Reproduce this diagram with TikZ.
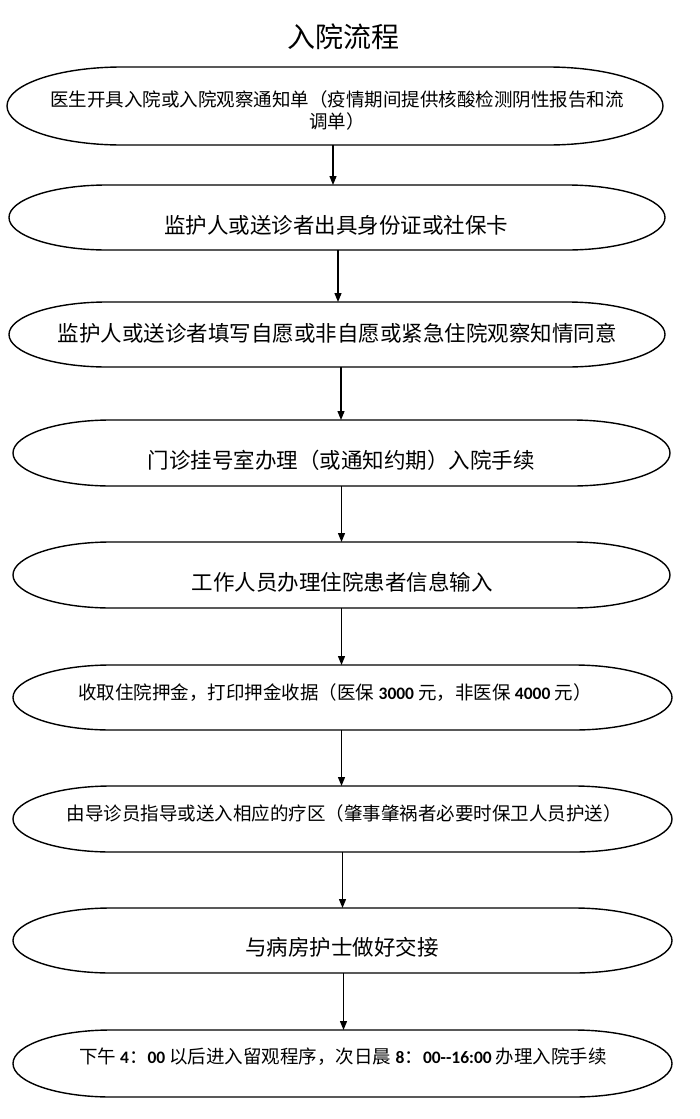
\documentclass[tikz,border=0pt]{standalone}
\usepackage{fontspec}
\setmainfont{Noto Sans CJK SC}
\newfontfamily\dgfont{Carlito}
\usetikzlibrary{arrows.meta}
\newcommand\dg[1]{{\dgfont\bfseries\fontsize{17.5}{20}\selectfont #1}}
\newcommand\mycapsule[3]{%
  \draw[outl] ([xshift=#2pt]#1.north west) -- ([xshift=-#2pt]#1.north east)
    arc[start angle=90,end angle=-90,x radius=#2pt,y radius=#3pt]
    -- ([xshift=#2pt]#1.south west)
    arc[start angle=270,end angle=90,x radius=#2pt,y radius=#3pt] -- cycle;}
\begin{document}
\begin{tikzpicture}[x=1pt,y=-1pt,
  box/.style={draw=none,inner sep=0pt,outer sep=0pt,minimum width=#1},
  box/.default=657pt,
  outl/.style={line width=1.4pt,black},
  big/.style={font=\fontsize{21.5}{25}\selectfont,inner sep=0pt},
  small/.style={font=\fontsize{18.5}{22}\selectfont,inner sep=0pt},
  arr/.style={line width=1.2pt,-{Triangle[length=9pt,width=7pt]}}]
\useasboundingbox[fill=white] (0,0) rectangle (700,1119);

\node[font=\fontsize{28}{32}\selectfont,inner sep=0pt] (title) at (343,37) {入院流程};

\node[box=656pt,minimum height=78pt] (e1) at (335,106) {};
\node[box=656pt,minimum height=65pt] (e2) at (337,217.5) {};
\node[box=656pt,minimum height=65pt] (e3) at (337,334.5) {};
\node[box=657pt,minimum height=66pt] (e4) at (341.5,453) {};
\node[box=657pt,minimum height=66pt] (e5) at (341.5,575) {};
\node[box=659pt,minimum height=65pt] (e6) at (342.5,697.5) {};
\node[box=659pt,minimum height=66pt] (e7) at (342.5,819) {};
\node[box=659pt,minimum height=65pt] (e8) at (342.5,940.5) {};
\node[box=659pt,minimum height=67pt] (e9) at (342.5,1063.5) {};

\mycapsule{e1}{115}{39}
\mycapsule{e2}{98}{32.5}
\mycapsule{e3}{98}{32.5}
\mycapsule{e4}{98}{33}
\mycapsule{e5}{98}{33}
\mycapsule{e6}{98}{32.5}
\mycapsule{e7}{98}{33}
\mycapsule{e8}{98}{32.5}
\mycapsule{e9}{98}{33.5}

\node[small,align=center] (t1) at (337,110) {医生开具入院或入院观察通知单（疫情期间提供核酸检测阴性报告和流\\调单）};
\node[big] (t2) at (336,225) {监护人或送诊者出具身份证或社保卡};
\node[big] (t3) at (337,333) {监护人或送诊者填写自愿或非自愿或紧急住院观察知情同意};
\node[big] (t4) at (341,460) {门诊挂号室办理（或通知约期）入院手续};
\node[big] (t5) at (342,582) {工作人员办理住院患者信息输入};
\node[small] (t6) at (335,693) {收取住院押金，打印押金收据（医保 \dg{3000} 元，非医保 \dg{4000} 元）};
\node[small] (t7) at (344,813) {由导诊员指导或送入相应的疗区（肇事肇祸者必要时保卫人员护送）};
\node[big] (t8) at (342,947) {与病房护士做好交接};
\node[small] (t9) at (343,1057) {下午 \dg{4}：\dg{00} 以后进入留观程序，次日晨 \dg{8}：\dg{00--16:00} 办理入院手续};

\draw[arr] ([xshift=-2pt]e1.south) -- ([xshift=-2pt]e1.south |- e2.north);
\draw[arr] ([xshift=1pt]e2.south) -- ([xshift=1pt]e2.south |- e3.north);
\draw[arr] ([xshift=4pt]e3.south) -- ([xshift=4pt]e3.south |- e4.north);
\draw[arr] (e4.south) -- (e4.south |- e5.north);
\draw[arr] (e5.south) -- (e5.south |- e6.north);
\draw[arr] ([xshift=-1pt]e6.south) -- ([xshift=-1pt]e6.south |- e7.north);
\draw[arr] (e7.south) -- (e7.south |- e8.north);
\draw[arr] ([xshift=1pt]e8.south) -- ([xshift=1pt]e8.south |- e9.north);
\end{tikzpicture}
\end{document}
